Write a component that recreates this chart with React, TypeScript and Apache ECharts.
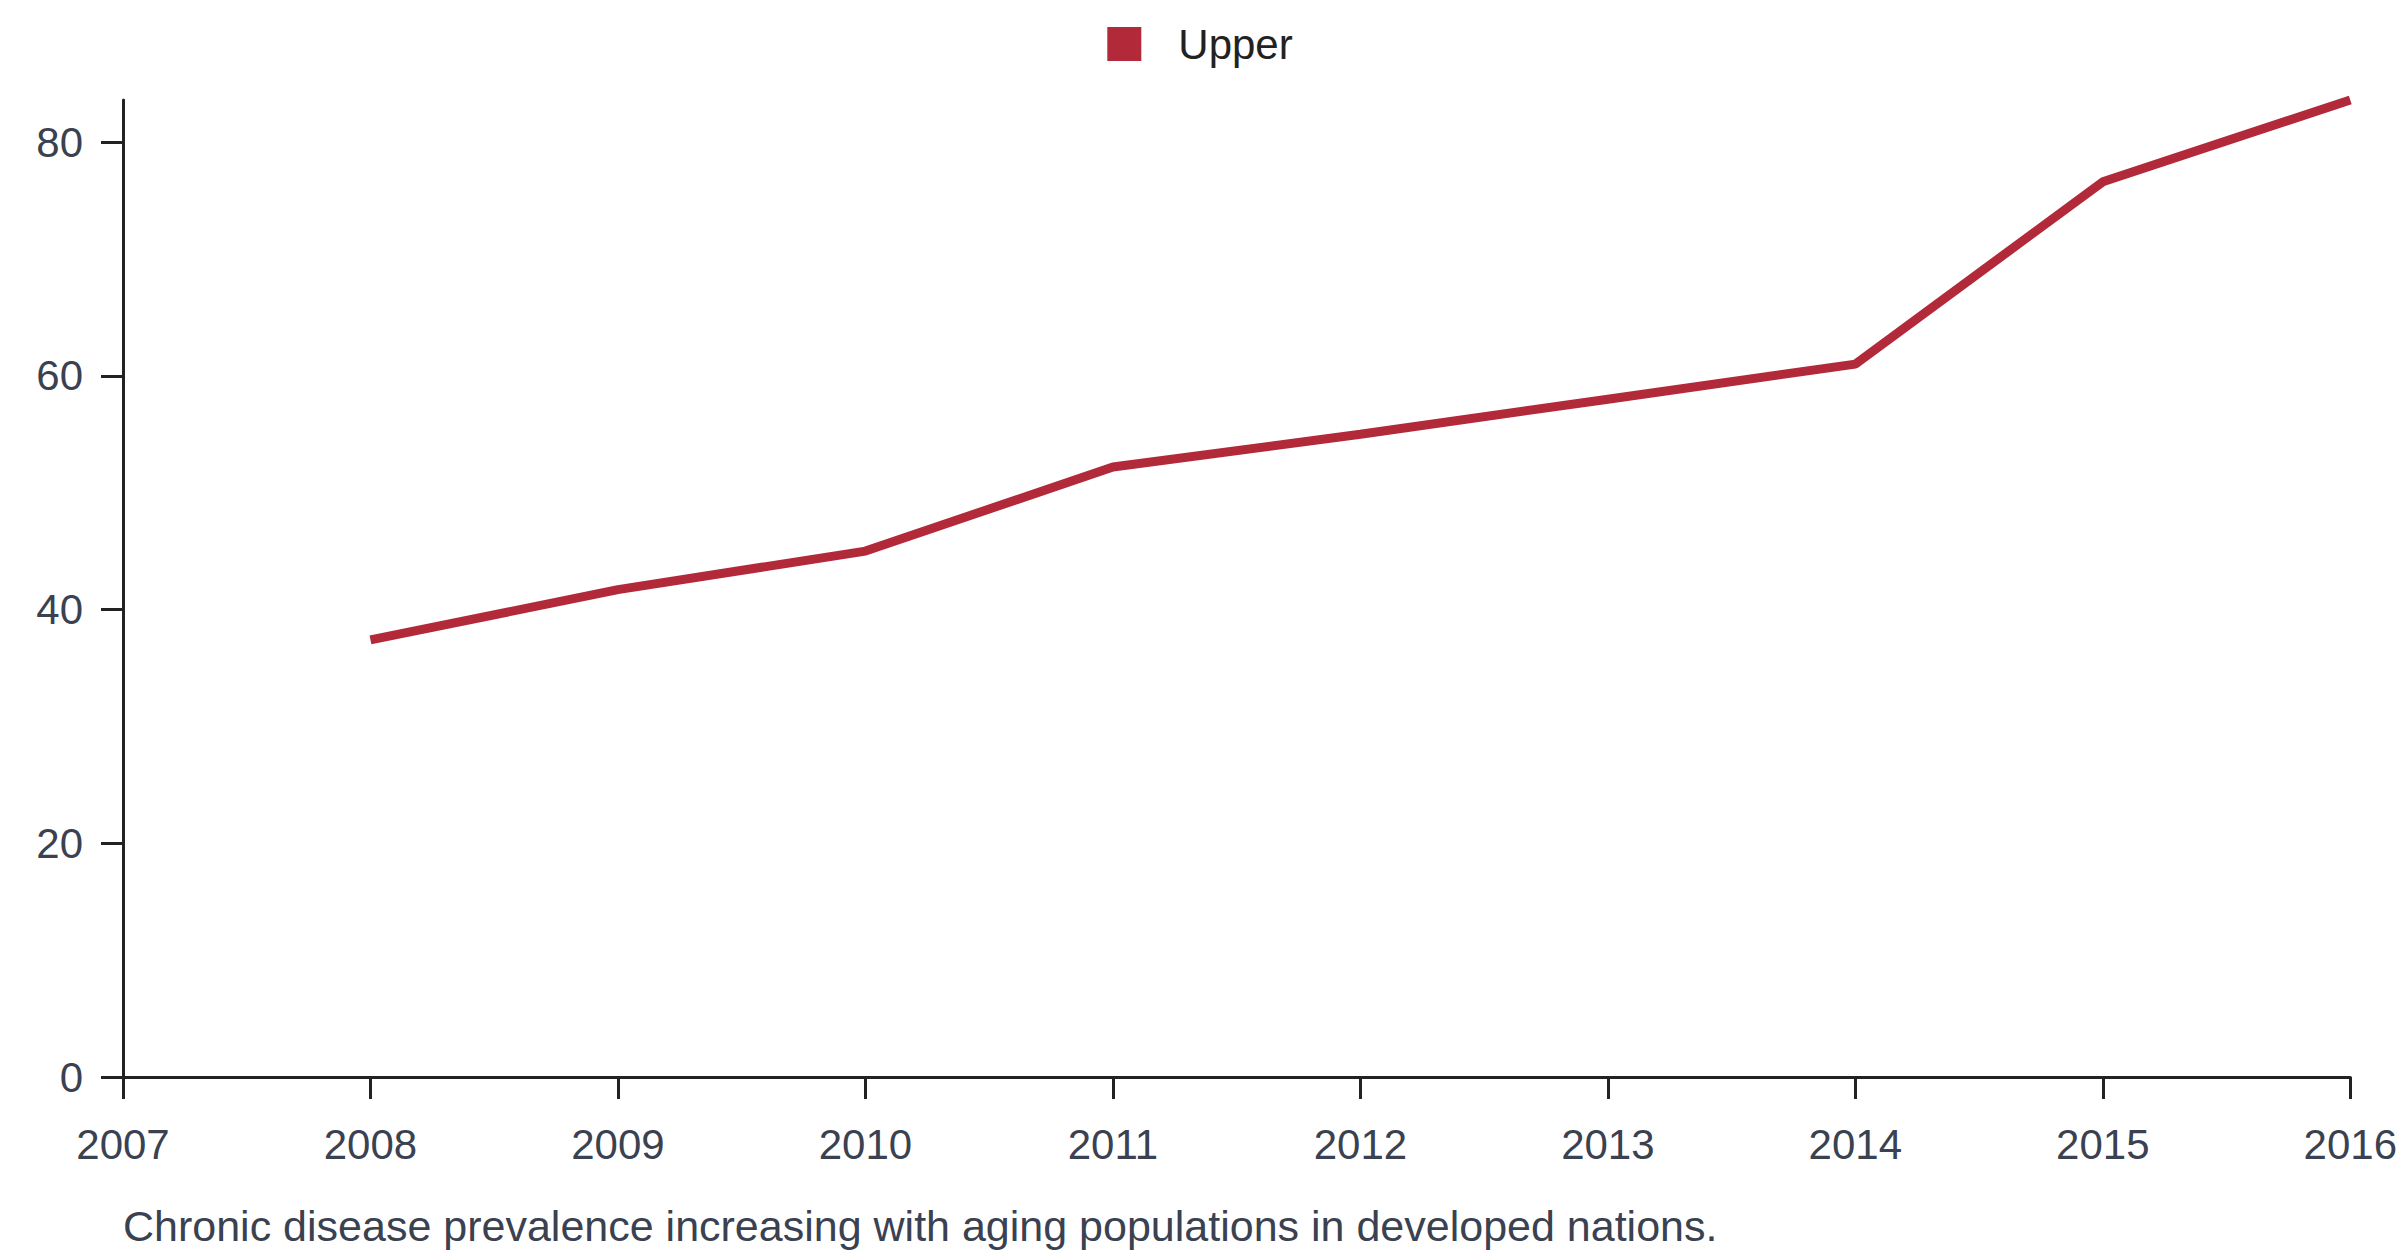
import React, { useEffect, useRef } from 'react';
import * as echarts from 'echarts';

const years = [2008, 2009, 2010, 2011, 2012, 2013, 2014, 2015, 2016];
const upper = [37.4, 41.7, 45.0, 52.2, 55.0, 58.0, 61.0, 76.6, 83.6];
const caption = 'Chronic disease prevalence increasing with aging populations in developed nations.';

export default function App() {
  const ref = useRef<HTMLDivElement>(null);
  useEffect(() => {
    if (!ref.current) return;
    const chart = echarts.init(ref.current, null, { renderer: 'svg' });
    const font = 'Liberation Sans, Arial, sans-serif';
    const labelColor = '#3a4150';
    chart.setOption({
      animation: false,
      backgroundColor: '#ffffff',
      textStyle: { fontFamily: font },
      legend: {
        top: 18, left: 'center', icon: 'rect', itemWidth: 34, itemHeight: 34, itemGap: 20,
        textStyle: { fontSize: 42, color: '#222', fontFamily: font, padding: [0, 0, 0, 32] },
        data: ['Upper'],
      },
      grid: { left: 123, right: 30, top: 100, bottom: 179 },
      xAxis: {
        type: 'value', min: 2007, max: 2016, interval: 1,
        axisLine: { lineStyle: { color: '#222', width: 3 } },
        axisTick: { show: true, length: 22, lineStyle: { color: '#222', width: 3 } },
        axisLabel: { color: labelColor, fontSize: 42, margin: 46, formatter: (v: number) => String(v) },
        splitLine: { show: false },
      },
      yAxis: {
        type: 'value', min: 0, max: 83.6, interval: 20,
        axisLine: { show: true, lineStyle: { color: '#222', width: 3 } },
        axisTick: { show: true, length: 22, lineStyle: { color: '#222', width: 3 } },
        axisLabel: { color: labelColor, fontSize: 42, margin: 40, showMaxLabel: false },
        splitLine: { show: false },
      },
      series: [{
        name: 'Upper', type: 'line', data: years.map((y, i) => [y, upper[i]]),
        showSymbol: false, color: '#b22a3a', lineStyle: { width: 9, color: '#b22a3a' },
      }],
      graphic: [{
        type: 'text', left: 123, top: 1204,
        style: { text: caption, fontSize: 43, fill: labelColor, fontFamily: font },
      }],
    });
    return () => chart.dispose();
  }, []);
  return <div ref={ref} style={{ position: 'fixed', left: 0, top: 0, width: 2400, height: 1256 }} />;
}
